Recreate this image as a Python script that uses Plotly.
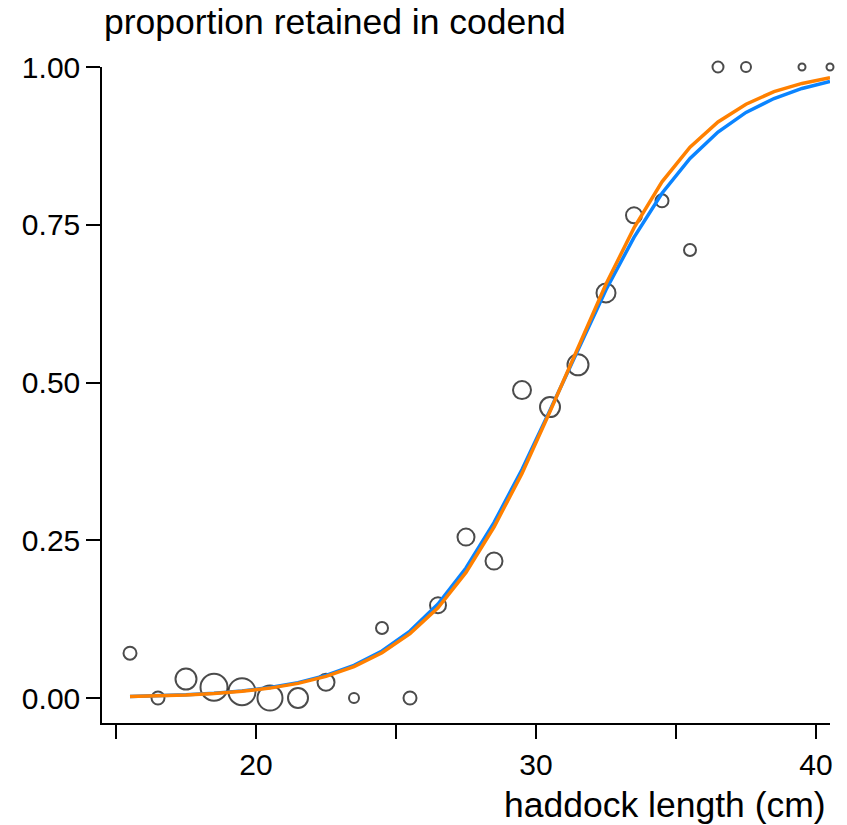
import plotly.graph_objects as go

# Observed proportions by length class (cm)
length_obs = [15.5, 16.5, 17.5, 18.5, 19.5, 20.5, 21.5, 22.5, 23.5, 24.5, 25.5, 26.5,
              27.5, 28.5, 29.5, 30.5, 31.5, 32.5, 33.5, 34.5, 35.5, 36.5, 37.5, 39.5, 40.5]
prop_obs = [0.071, 0.0, 0.030, 0.017, 0.010, 0.0, 0.0, 0.025, 0.0, 0.111, 0.0, 0.147,
            0.255, 0.217, 0.488, 0.461, 0.528, 0.642, 0.765, 0.788, 0.710, 1.0, 1.0, 1.0, 1.0]
# relative sample weight (shown as circle diameter)
weight_obs = [14, 14, 22, 28, 28, 26, 21, 18, 11, 13, 14, 17,
              18, 18, 19, 21, 22, 20, 17, 14, 13, 12, 11, 8, 8]

# Fitted selection curves
length_fit = [15.5, 16.5, 17.5, 18.5, 19.5, 20.5, 21.5, 22.5, 23.5, 24.5, 25.5, 26.5, 27.5,
              28.5, 29.5, 30.5, 31.5, 32.5, 33.5, 34.5, 35.5, 36.5, 37.5, 38.5, 39.5, 40.5]
fit_blue = [0.0024, 0.0035, 0.0052, 0.0077, 0.0113, 0.0166, 0.0244, 0.0357, 0.0517, 0.0746,
            0.106, 0.149, 0.206, 0.278, 0.362, 0.456, 0.553, 0.647, 0.730, 0.800, 0.855,
            0.897, 0.928, 0.950, 0.966, 0.977]
fit_orange = [0.0022, 0.0033, 0.0049, 0.0073, 0.0107, 0.0157, 0.0232, 0.0342, 0.0497, 0.0718,
              0.102, 0.143, 0.199, 0.271, 0.356, 0.454, 0.556, 0.656, 0.745, 0.818, 0.873,
              0.913, 0.941, 0.961, 0.974, 0.983]

x_tickvals = [15, 20, 25, 30, 35, 40]
x_ticktext = ["", "20", "", "30", "", "40"]
y_tickvals = [0, 0.25, 0.5, 0.75, 1.0]

FONT = "Liberation Sans, Arial, sans-serif"

fig = go.Figure()
fig.add_trace(go.Scatter(
    x=length_obs, y=prop_obs, mode="markers",
    marker=dict(size=[w - 1 for w in weight_obs], sizemode="diameter",
                color="rgba(0,0,0,0)", line=dict(color="black", width=2)),
    cliponaxis=False, showlegend=False, hoverinfo="x+y"))
fig.add_trace(go.Scatter(
    x=length_fit, y=fit_blue, mode="lines",
    line=dict(color="#0A84FF", width=3.5), cliponaxis=False, showlegend=False))
fig.add_trace(go.Scatter(
    x=length_fit, y=fit_orange, mode="lines",
    line=dict(color="#FF8000", width=3.5), cliponaxis=False, showlegend=False))

fig.update_layout(
    width=847, height=825,
    margin=dict(l=102, r=17, t=67, b=102, pad=0),
    paper_bgcolor="white", plot_bgcolor="white",
    font=dict(family=FONT, size=30, color="black"),
    xaxis=dict(range=[14.5, 40.5], tickvals=x_tickvals, ticktext=x_ticktext,
               ticks="outside", ticklen=14, tickwidth=1.5, tickcolor="black",
               showline=True, linecolor="black", linewidth=1.5,
               showgrid=False, zeroline=False, tickfont=dict(size=30)),
    yaxis=dict(range=[-0.0396, 1.0], tickvals=y_tickvals, tickformat=".2f",
               ticks="outside", ticklen=14, tickwidth=1.5, tickcolor="black",
               showline=True, linecolor="black", linewidth=1.5,
               showgrid=False, zeroline=False, tickfont=dict(size=30)),
    annotations=[
        dict(text="proportion retained in codend", xref="paper", yref="paper",
             x=0, y=1.0686, xanchor="left", yanchor="middle", showarrow=False,
             font=dict(size=35.5)),
        dict(text="haddock length (cm)", xref="paper", yref="paper",
             x=0.997, y=-0.125, xanchor="right", yanchor="middle", showarrow=False,
             font=dict(size=35.5)),
    ],
)

fig.write_html("out.html")
